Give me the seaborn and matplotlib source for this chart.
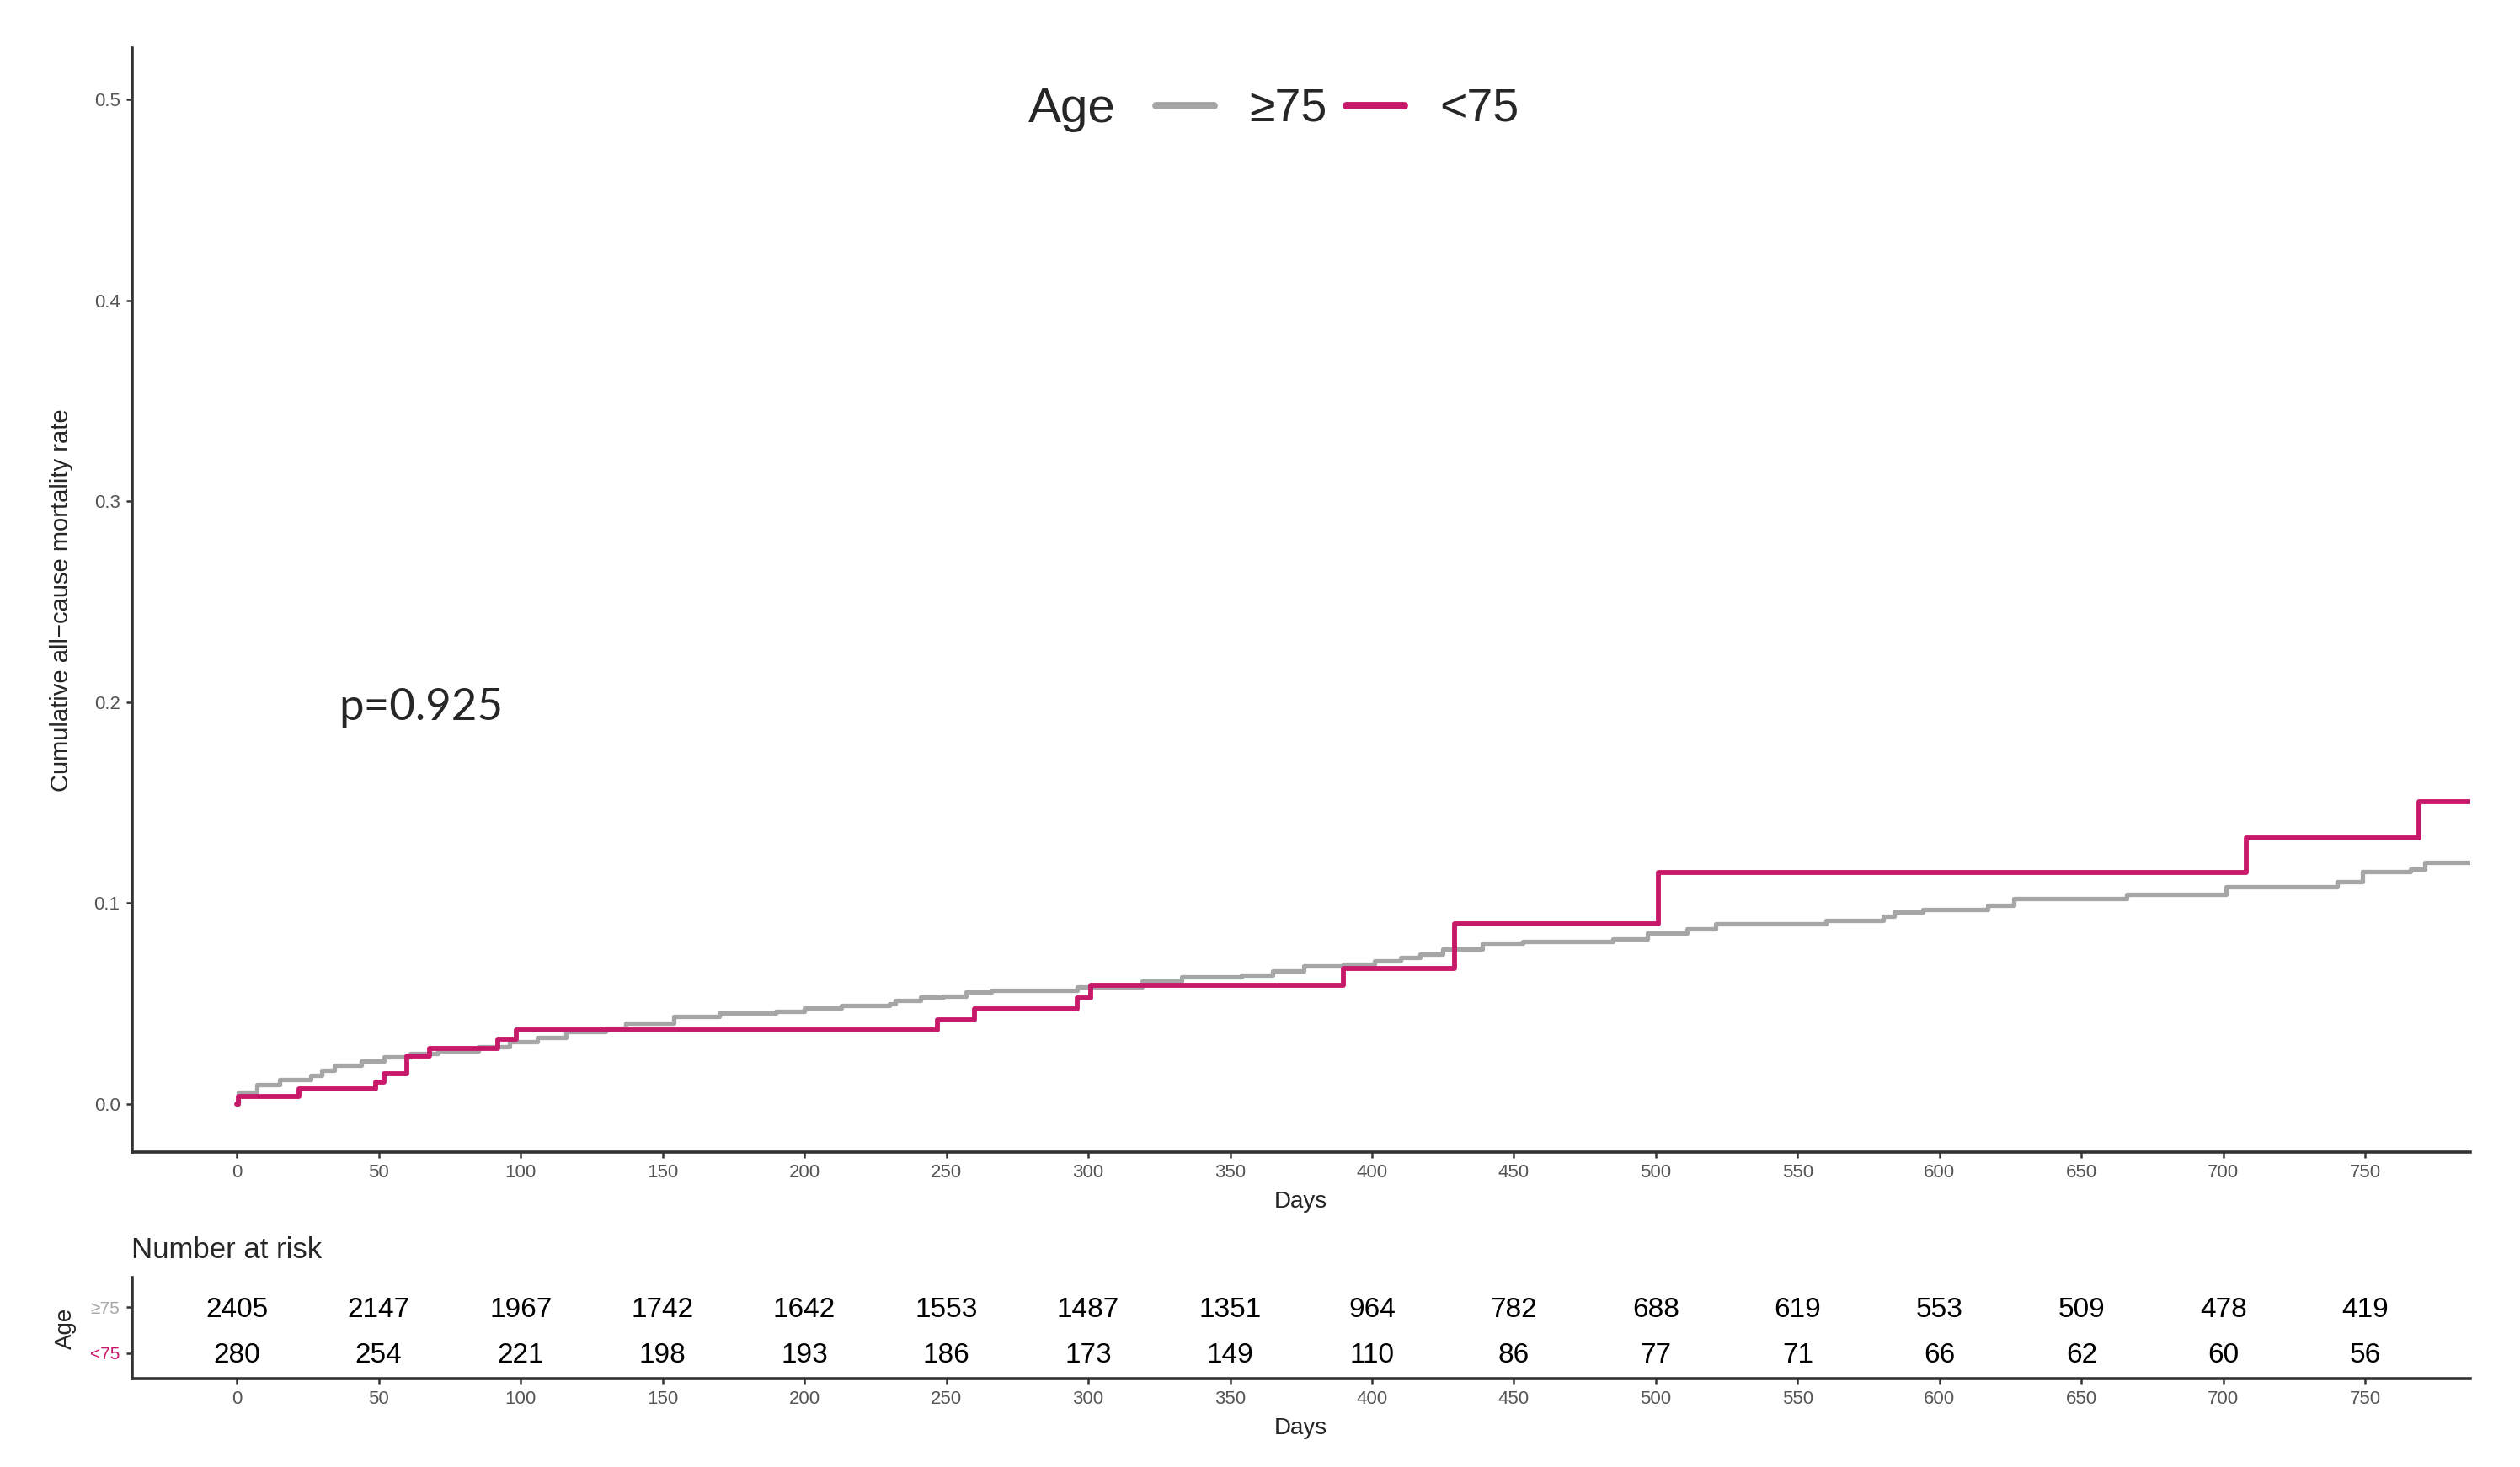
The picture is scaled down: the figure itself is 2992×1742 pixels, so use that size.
import pandas as pd
import matplotlib.pyplot as plt
import seaborn as sns

# cumulative mortality step curves
ge75_days = [0, 0.5, 7, 15, 26, 30, 34.5, 44, 52, 61, 71, 85, 96, 106, 116, 130, 137, 154,
             170, 190, 200, 213, 230, 232, 241, 249, 257, 266, 296, 319, 333, 354, 365, 376,
             390, 401, 410, 417, 425, 439, 453, 485, 497, 511, 521,
             560, 580, 584, 594, 617, 626, 666, 701, 740, 749, 766, 771, 787]
ge75_rate = [0.0, 0.0059, 0.0094, 0.0122, 0.0143, 0.0168, 0.0192, 0.0213, 0.0234, 0.0252,
             0.0262, 0.0283, 0.031, 0.0332, 0.036, 0.0378, 0.0402, 0.0434,
             0.0453, 0.0462, 0.0478, 0.049, 0.05, 0.0514, 0.0532, 0.0537, 0.0556, 0.0565,
             0.0583, 0.0611, 0.0632, 0.0639, 0.0663, 0.0688,
             0.0695, 0.0713, 0.073, 0.0744, 0.0769, 0.08, 0.0807, 0.0821, 0.0849, 0.087, 0.0895,
             0.0915, 0.0933, 0.0954, 0.0968, 0.0989, 0.1023, 0.1044, 0.1082, 0.1107, 0.1156,
             0.117, 0.1202, 0.1202]

lt75_days = [0, 0.5, 22, 49, 52, 60, 68, 92, 98.5, 247, 260, 296, 301, 390, 429, 501, 708, 769, 787]
lt75_rate = [0.0, 0.0038, 0.0075, 0.011, 0.015, 0.0238, 0.0276, 0.032, 0.0367, 0.0418, 0.0472,
             0.0527, 0.059, 0.0674, 0.0895, 0.1152, 0.1324, 0.1506, 0.1506]

# number at risk table
risk_days = [0, 50, 100, 150, 200, 250, 300, 350, 400, 450, 500, 550, 600, 650, 700, 750]
risk_ge75 = [2405, 2147, 1967, 1742, 1642, 1553, 1487, 1351, 964, 782, 688, 619, 553, 509, 478, 419]
risk_lt75 = [280, 254, 221, 198, 193, 186, 173, 149, 110, 86, 77, 71, 66, 62, 60, 56]

groups = ['≥75', '<75']
colors = {'≥75': '#A6A6A6', '<75': '#C8186A'}
p_text = 'p=0.925'

df = pd.concat([
    pd.DataFrame({'Days': ge75_days, 'rate': ge75_rate, 'Age': '≥75'}),
    pd.DataFrame({'Days': lt75_days, 'rate': lt75_rate, 'Age': '<75'}),
])

sns.set_style("ticks")
plt.rcParams['font.family'] = ['Liberation Sans', 'DejaVu Sans']

W, H = 2992, 1742
fig = plt.figure(figsize=(W / 200, H / 200), dpi=200)

spine_c = '#333333'
tick_c = '#555555'
xlim = (-37, 787)

def style_axes(ax):
    sns.despine(ax=ax)
    for s in ['left', 'bottom']:
        ax.spines[s].set_color(spine_c)
        ax.spines[s].set_linewidth(1.3)
    ax.tick_params(length=2.5, width=0.9, color=spine_c, pad=2.5, labelsize=8, labelcolor=tick_c)

# main curve panel
ax = fig.add_axes([156.5 / W, 1 - 1368 / H, (2933 - 156.5) / W, (1368 - 57) / H])
sns.lineplot(data=df, x='Days', y='rate', hue='Age', hue_order=groups, palette=colors,
             estimator=None, drawstyle='steps-post', ax=ax)
for line, lw in zip(ax.get_lines(), [1.9, 2.1]):
    line.set_linewidth(lw)
handles, labels = ax.get_legend_handles_labels()
ax.get_legend().remove()

ax.set_xlim(*xlim)
ax.set_ylim(-0.024, 0.5257)
ax.set_xticks(risk_days)
ax.set_yticks([0, 0.1, 0.2, 0.3, 0.4, 0.5])
ax.set_yticklabels(['0.0', '0.1', '0.2', '0.3', '0.4', '0.5'])
style_axes(ax)
ax.set_xlabel('Days', fontsize=10, labelpad=4)
ax.set_ylabel('Cumulative all\u2212cause mortality rate', fontsize=10.5, labelpad=9)
ax.text(36, 0.197, p_text, fontsize=19, ha='left', va='center', family=['Lato', 'DejaVu Sans'])

# legend on top
fig.text(1221 / W, 1 - 130 / H, 'Age', fontsize=21, ha='left', va='center')
leg = fig.legend(handles, labels, loc='center left', bbox_to_anchor=(1372 / W, 1 - 130 / H),
                 ncol=2, frameon=False, borderpad=0, borderaxespad=0, handlelength=1.25,
                 handletextpad=0.75, columnspacing=0.4, fontsize=20)
for l in leg.get_lines():
    l.set_linewidth(3.2)

# number at risk table
at = fig.add_axes([156.5 / W, 1 - 1637 / H, (2933 - 156.5) / W, (1637 - 1517) / H])
for row, counts in zip([2, 1], [risk_ge75, risk_lt75]):
    for d, n in zip(risk_days, counts):
        at.text(d, row - 0.06, str(n), ha='center', va='center', fontsize=12, color='black')
at.set_xlim(*xlim)
at.set_ylim(0.44, 2.65)
at.set_xticks(risk_days)
at.set_yticks([2, 1])
at.set_yticklabels(groups)
style_axes(at)
for lab, g in zip(at.get_yticklabels(), groups):
    lab.set_color(colors[g])
    lab.set_fontsize(7.5)
at.set_xlabel('Days', fontsize=10, labelpad=4)
at.set_ylabel('Age', fontsize=10, labelpad=6)
fig.text(156.5 / W, 1 - 1484 / H, 'Number at risk', fontsize=12.5, ha='left', va='center')

fig.savefig('out.png', dpi=200, facecolor='white')
